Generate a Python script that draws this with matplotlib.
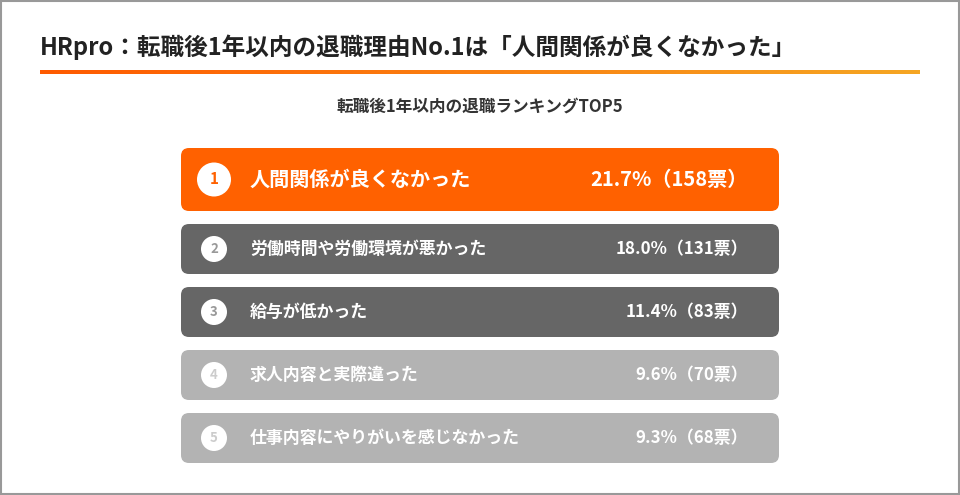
import matplotlib
matplotlib.use("Agg")
import matplotlib.pyplot as plt
from matplotlib.patches import FancyBboxPatch, Circle, Rectangle
from matplotlib.colors import LinearSegmentedColormap
import numpy as np

title = "HRpro：転職後1年以内の退職理由No.1は「人間関係が良くなかった」"
subtitle = "転職後1年以内の退職ランキングTOP5"
ranks = [1, 2, 3, 4, 5]
reasons = ["人間関係が良くなかった", "労働時間や労働環境が悪かった", "給与が低かった",
           "求人内容と実際違った", "仕事内容にやりがいを感じなかった"]
percents = [21.7, 18.0, 11.4, 9.6, 9.3]
votes = [158, 131, 83, 70, 68]
colors = ["#FF6100", "#666666", "#666666", "#B3B3B3", "#B3B3B3"]
numcolors = ["#FF6100", "#999999", "#999999", "#CCCCCC", "#CCCCCC"]

plt.rcParams["font.family"] = "Noto Sans CJK JP"
fig = plt.figure(figsize=(9.6, 4.95), dpi=100)
ax = fig.add_axes([0, 0, 1, 1])
ax.set_xlim(0, 960); ax.set_ylim(495, 0); ax.axis("off")

ax.add_patch(Rectangle((1, 1), 958, 493, fill=False, ec="#999999", lw=1.5))
ax.text(40, 47, title, fontsize=17, fontweight="bold", color="#222222", va="center", ha="left")
grad = np.linspace(0, 1, 256).reshape(1, -1)
cm = LinearSegmentedColormap.from_list("g", ["#FF5A00", "#F5A623"])
ax.imshow(grad, cmap=cm, extent=(40, 920, 74.5, 70.5), aspect="auto")
ax.text(480, 107, subtitle, fontsize=12, fontweight="bold", color="#333333", ha="center", va="center")

tops = [148, 224, 287, 350, 413]
heights = [63, 50, 50, 50, 50]
for i, r in enumerate(ranks):
    y, h = tops[i], heights[i]
    ax.add_patch(FancyBboxPatch((181, y), 598, h, boxstyle="round,pad=0,rounding_size=8",
                                fc=colors[i], ec="none", mutation_aspect=1))
    cy = y + h / 2
    rad = 17 if i == 0 else 13
    ax.add_patch(Circle((214, cy), rad, fc="white", ec="none"))
    ax.text(214, cy, str(r), color=numcolors[i], fontsize=11 if i == 0 else 9.5,
            fontweight="bold", ha="center", va="center")
    fs = 14.5 if i == 0 else 12.2
    ax.text(250, cy, reasons[i], color="white", fontsize=fs, fontweight="bold", ha="left", va="center")
    ax.text(748, cy, f"{percents[i]:.1f}%（{votes[i]}票）", color="white", fontsize=fs,
            fontweight="bold", ha="right", va="center")

fig.savefig("out.png", dpi=100, facecolor="white")
